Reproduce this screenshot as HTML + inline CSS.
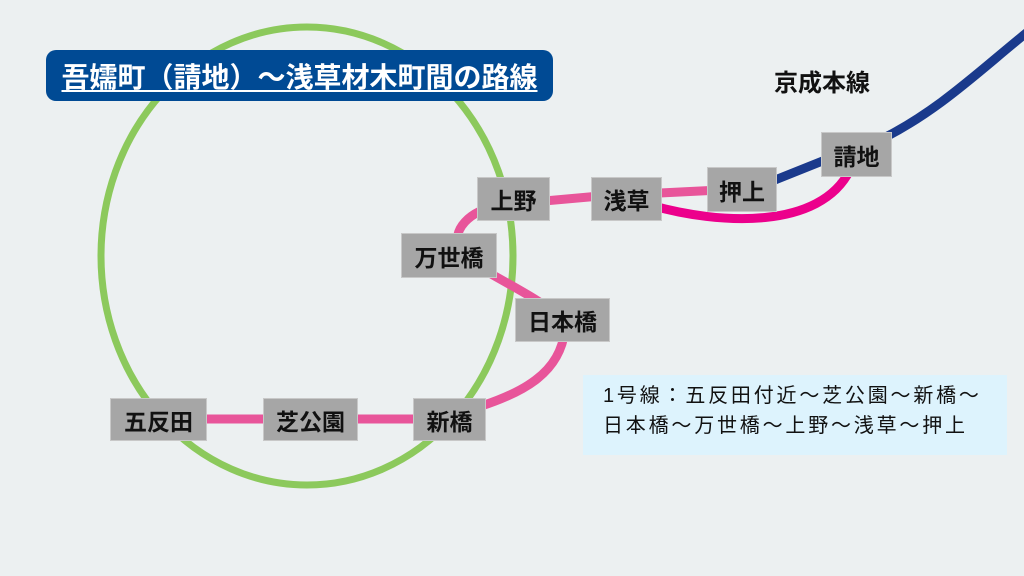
<!DOCTYPE html>
<html><head><meta charset="utf-8"><style>
body{margin:0;width:1024px;height:576px;background:#ecf0f1;overflow:hidden;position:relative;font-family:"Liberation Sans","Noto Sans CJK JP",sans-serif}
.b{position:absolute;background:#a6a6a6;border:1px solid #c8c8c8;box-sizing:border-box;display:flex;align-items:center;justify-content:center;font-weight:bold;font-size:23px;color:#111}
</style></head><body>
<svg width="1024" height="576" style="position:absolute;left:0;top:0">
<ellipse cx="307" cy="256" rx="206" ry="229" fill="none" stroke="#8cc95c" stroke-width="7"/>
<g fill="none" stroke="#e8559a" stroke-width="9">
<path d="M200 419 L450 419"/>
<path d="M450 415 C 530 395 560 370 565 330"/>
<path d="M565 320 C 540 300 510 285 470 262"/>
<path d="M460 250 C 450 230 470 210 500 205 L600 196 L720 190"/>
</g>
<path d="M650 205 C 720 225 820 230 850 170" fill="none" stroke="#ec008c" stroke-width="9"/>
<g fill="none" stroke="#1a3a8c" stroke-width="9">
<path d="M770 182 L830 158"/>
<path d="M880 140 C 940 110 980 70 1030 30"/>
</g>
</svg>
<div style="position:absolute;left:46px;top:50px;width:507px;height:51px;background:#004a94;border-radius:10px;color:#fff;font-weight:bold;font-size:28px;display:flex;align-items:center;justify-content:center;text-decoration:underline;text-underline-offset:3px;white-space:nowrap">吾嬬町（請地）～浅草材木町間の路線</div>
<div style="position:absolute;left:774px;top:63px;font-weight:bold;font-size:24px;color:#111">京成本線</div>
<div class="b" style="left:477px;top:177px;width:73px;height:44px">上野</div>
<div class="b" style="left:591px;top:177px;width:71px;height:44px">浅草</div>
<div class="b" style="left:707px;top:167px;width:70px;height:45px">押上</div>
<div class="b" style="left:821px;top:132px;width:71px;height:45px">請地</div>
<div class="b" style="left:401px;top:233px;width:96px;height:45px">万世橋</div>
<div class="b" style="left:515px;top:298px;width:95px;height:44px">日本橋</div>
<div class="b" style="left:110px;top:398px;width:97px;height:43px">五反田</div>
<div class="b" style="left:263px;top:398px;width:95px;height:43px">芝公園</div>
<div class="b" style="left:413px;top:398px;width:73px;height:43px">新橋</div>
<div style="position:absolute;left:583px;top:375px;width:424px;height:80px;background:#ddf3fd;box-sizing:border-box;padding:6px 0 0 20px;font-size:20px;line-height:30px;letter-spacing:2.8px;color:#111;white-space:nowrap">1号線：五反田付近～芝公園～新橋～<br>日本橋～万世橋～上野～浅草～押上</div>
</body></html>
